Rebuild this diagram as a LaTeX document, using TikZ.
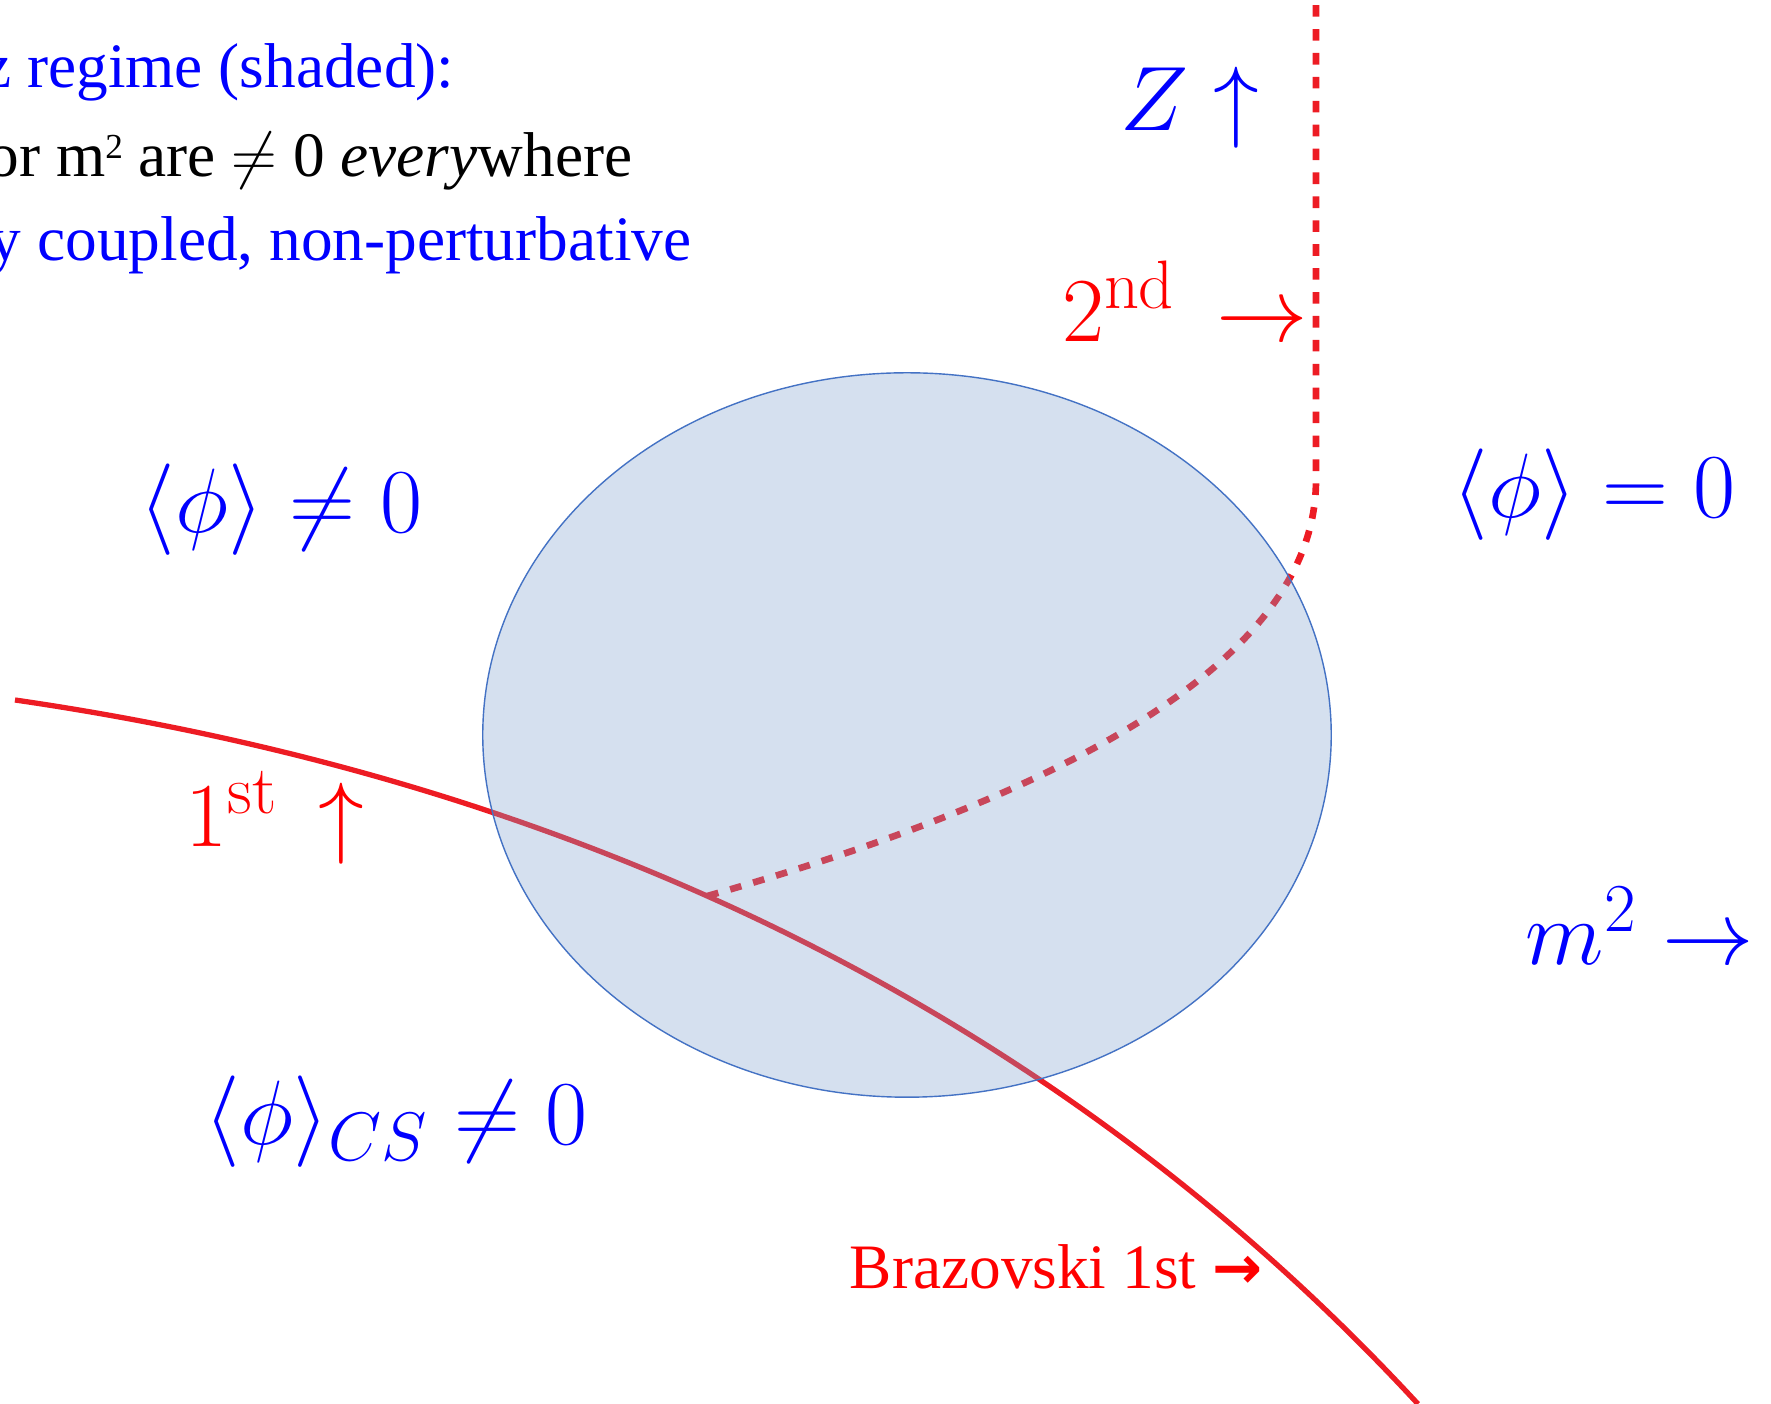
\RequirePackage{fix-cm}
\documentclass[tikz,border=0pt]{standalone}
\usepackage[no-math]{fontspec}
\setmainfont{Liberation Serif}
\newfontfamily\arrowfont{DejaVu Sans}
\usetikzlibrary{shapes.geometric}
\DeclareMathSizes{26}{26}{19.5}{14}
\definecolor{linered}{HTML}{ED1C24}
\definecolor{txtred}{HTML}{FF0000}
\definecolor{txtblue}{HTML}{0000FF}
\definecolor{shade}{HTML}{7BA0CD}
\definecolor{shadeline}{HTML}{4472C4}

\begin{document}
\begin{tikzpicture}[
  x=0.01cm,y=-0.01cm,
  lab/.style={anchor=base,inner sep=0pt,font=\fontsize{26}{31}\selectfont},
  note/.style={anchor=base east,inner sep=0pt,font=\fontsize{18}{24}\selectfont},
  first/.style={draw=linered,line width=1.5pt},
  second/.style={draw=linered,line width=1.9pt,dash pattern=on 3.3pt off 3.5pt},
  regime/.style={ellipse,draw=shadeline,line width=0.4pt,fill=shade,fill opacity=0.32,inner sep=0pt}
]
\useasboundingbox (0,0) rectangle (1771,1404);
\clip (0,0) rectangle (1771,1404);

\coordinate (firstW) at (15,700);
\coordinate (firstS) at (1418,1404);
\coordinate (bend) at (1316,480);
\coordinate (top) at (1316,-10);

\draw[first] (firstW) .. controls (579,782) and (1058,1014) .. coordinate[pos=0.44] (tri) (firstS);
\draw[second] (tri) .. controls (1112,781) and (1316,643) .. (bend) -- (top);

\node[regime,minimum width=8.48cm,minimum height=7.24cm] (lifshitz) at (907,735) {};

\node[note,text=txtblue] (head) at (455,88) {z regime (shaded):};
\node[note] (nonzero) at (633,177) {or m\raisebox{0.29em}{\fontsize{10}{10}\selectfont 2} are $\neq$ 0 \textit{every}where};
\node[note,text=txtblue] (strong) at (692,261) {y coupled, non-perturbative};

\node[lab,text=txtblue] (broken) at (281,533) {$\langle\phi\rangle\neq0$};
\node[lab,text=txtblue] (cs) at (396,1145) {$\langle\phi\rangle_{CS}\neq0$};
\node[lab,text=txtblue] (sym) at (1594,518) {$\langle\phi\rangle=0$};
\node[lab,text=txtblue] (mass) at (1640,965) {$m^2\rightarrow$};
\node[lab,text=txtblue] (zee) at (1190,131) {$Z\uparrow$};
\node[lab,text=txtred] (one) at (275,847) {$1^{\mathrm{st}}\,\uparrow$};
\node[lab,text=txtred] (two) at (1185,342) {$2^{\mathrm{nd}}\,\rightarrow$};
\node[note,anchor=base,text=txtred] (braz) at (1056,1289) {Brazovski 1st {\arrowfont\bfseries\fontsize{17}{17}\selectfont →}};
\end{tikzpicture}
\end{document}
